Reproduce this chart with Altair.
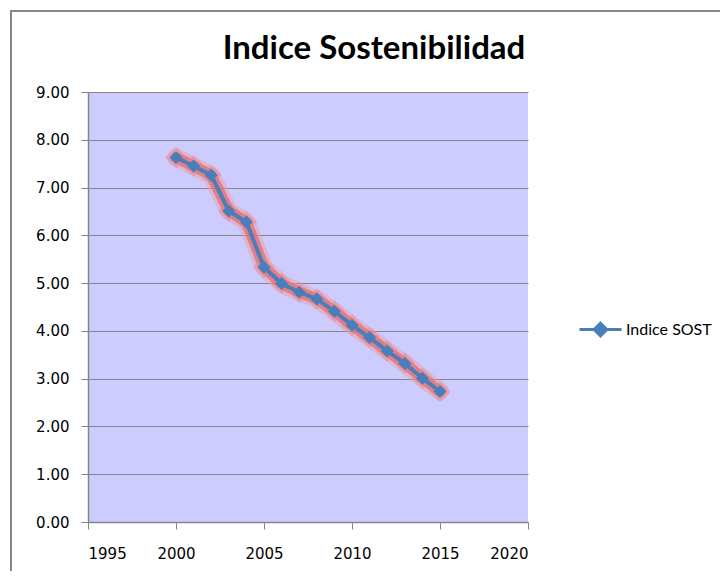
import altair as alt
import pandas as pd

years = [2000, 2001, 2002, 2003, 2004, 2005, 2006, 2007, 2008, 2009, 2010, 2011, 2012, 2013, 2014, 2015]
values = [7.63, 7.45, 7.26, 6.51, 6.28, 5.33, 4.99, 4.81, 4.67, 4.41, 4.12, 3.86, 3.58, 3.32, 3.01, 2.73]
series_name = "Indice SOST"
x_ticks = [1995, 2000, 2005, 2010, 2015, 2020]
y_ticks = [0, 1, 2, 3, 4, 5, 6, 7, 8, 9]

df = pd.DataFrame({"year": years, "value": values, "series": [series_name] * len(years)})

GRAY = "#868686"
BLUE = "#4A7EBB"

x = alt.X("year:Q",
          scale=alt.Scale(domain=[1995, 2020], nice=False, zero=False),
          axis=alt.Axis(values=x_ticks, format="d", title=None, grid=False))
y = alt.Y("value:Q",
          scale=alt.Scale(domain=[0, 9], nice=False, zero=True),
          axis=alt.Axis(values=y_ticks, format=".2f", title=None, grid=True))

base = alt.Chart(df).encode(x=x, y=y)

glow_outer = base.mark_line(color="#F29A9A", strokeWidth=18, opacity=0.45,
                            strokeJoin="round", strokeCap="round")
glow_inner = base.mark_line(color="#E05C5C", strokeWidth=11, opacity=0.6,
                            strokeJoin="round", strokeCap="round")
glow_pts = base.mark_point(shape="diamond", filled=True, size=460,
                           color="#EC8080", opacity=0.45)
line = base.mark_line(color=BLUE, strokeWidth=4, strokeJoin="round")
points = base.mark_point(shape="diamond", filled=True, size=170, opacity=1).encode(
    color=alt.Color("series:N",
                    scale=alt.Scale(domain=[series_name], range=[BLUE]),
                    legend=alt.Legend(
                        title=None,
                        orient="none",
                        legendX=490,
                        legendY=215,
                        padding=0,
                        symbolType="M-1,0L1,0M0,-0.3L0.3,0L0,0.3L-0.3,0Z",
                        symbolSize=1764,
                        symbolStrokeColor=BLUE,
                        symbolFillColor=BLUE,
                        symbolStrokeWidth=3,
                        symbolOpacity=1,
                        labelFont="Lato",
                        labelFontSize=16,
                        labelColor="#000000",
                        labelOffset=3,
                    ))
)

frame = alt.Chart(pd.DataFrame({"k": [0]})).mark_rect(
    fill="transparent", stroke=GRAY, strokeWidth=2
).encode(x=alt.value(-77), x2=alt.value(660), y=alt.value(-81), y2=alt.value(520))

chart = alt.layer(frame, glow_outer, glow_inner, glow_pts, line, points).properties(
    width=440,
    height=430,
    autosize=alt.AutoSizeParams(type="none"),
    padding={"left": 80, "top": 84, "right": 192, "bottom": 49},
    title=alt.TitleParams(
        text="Indice Sostenibilidad",
        font="Lato",
        fontSize=33,
        fontWeight="bold",
        color="#000000",
        anchor="middle",
        dx=66,
        baseline="bottom",
        offset=-89,
    ),
).configure_view(
    fill="#CCCCFF", stroke=None
).configure_axis(
    domainColor=GRAY,
    domainWidth=1.5,
    tickColor=GRAY,
    tickSize=7,
    gridColor=GRAY,
    gridWidth=1.2,
    labelFont="DejaVu Sans",
    labelFontSize=15,
    labelColor="#000000",
).configure_axisY(
    labelPadding=12,
).configure_axisX(
    labelPadding=17,
)

chart.save("out.html", embed_options={"renderer": "svg", "actions": False})
